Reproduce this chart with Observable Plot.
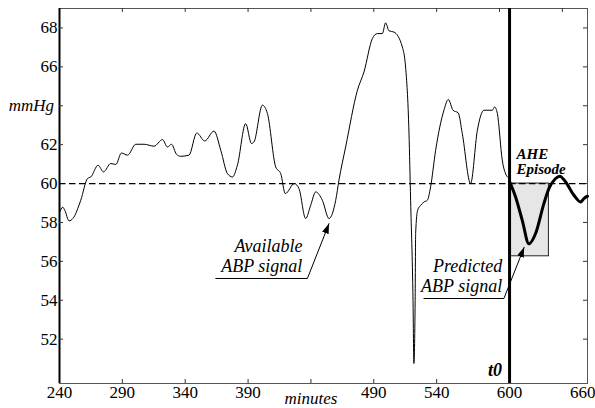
<!DOCTYPE html>
<html>
<head>
<meta charset="utf-8">
<script src="https://cdn.jsdelivr.net/npm/d3@7"></script>
<script src="https://cdn.jsdelivr.net/npm/@observablehq/plot@0.6"></script>
<style>
html,body{margin:0;padding:0;background:#fff;}
#chart svg{display:block;}
</style>
</head>
<body>
<div id="chart"></div>
<script>
// ---- Available ABP signal (minutes, mmHg) ----
const minutes = [240, 242.6, 244.2, 247.6, 250.6, 256.9, 262.3, 264.9, 270.7, 275.0, 280.8, 284.8, 289.3, 294.1, 300.7, 307.3, 315.2, 321.9, 325.9, 329.1, 333.0, 336.4, 343.0, 349.2, 355.5, 362.9, 368.3, 373.6, 377.6, 381.5, 388.1, 392.7, 394.7, 401.4, 405.4, 412.0, 416.0, 419.6, 426.8, 430.5, 435.8, 439.8, 443.8, 449.1, 454.4, 459.7, 462.3, 467.6, 477.0, 482.2, 488.9, 492.8, 496.8, 499.4, 502.1, 506.0, 512.7, 515.3, 518.0, 519.3, 521.2, 521.9, 522.9, 523.3, 524.9, 527.3, 529.9, 532.6, 535.2, 539.2, 545.8, 549.3, 553.0, 557.2, 560.4, 567.0, 572.4, 577.6, 584.3, 586.1, 588.3, 592.2, 595.4, 598];
const abp = [58.5, 58.78, 58.63, 58.08, 58.2, 59.14, 60.26, 60.34, 60.94, 60.60, 61.03, 60.98, 61.57, 61.46, 62.02, 62.02, 61.92, 62.26, 61.88, 62.02, 61.51, 61.40, 61.46, 62.60, 62.19, 62.70, 61.71, 60.51, 60.34, 60.94, 63.08, 62.06, 62.14, 64.03, 63.60, 60.85, 60.51, 59.48, 60.0, 59.74, 58.20, 58.88, 59.57, 59.14, 58.20, 59.14, 60.17, 61.88, 64.80, 65.74, 67.46, 67.71, 67.71, 68.26, 67.85, 67.79, 67.02, 65.99, 62.59, 59.14, 54.0, 50.75, 54.0, 57.44, 58.63, 58.88, 59.05, 59.14, 59.83, 61.71, 63.77, 64.32, 63.77, 63.63, 62.57, 60.0, 62.74, 63.77, 63.77, 63.94, 63.60, 61.20, 60.43, 60.26];

// ---- Predicted ABP signal ----
const predMinutes = [598, 602.8, 608.1, 613.4, 618.7, 625.3, 629.3, 634.6, 638.0, 642.6, 649.2, 654.5, 657.1, 660];
const predAbp = [60.1, 59.31, 58.11, 56.9, 57.43, 58.97, 59.74, 60.26, 60.38, 60.08, 59.40, 59.05, 59.23, 59.35];

// ---- reference values ----
const t0 = 598;
const threshold = 60;
const aheStart = [598];
const aheEnd = [629.3];
const aheLow = [56.26];
const aheHigh = [60];

// ---- ticks ----
const xLabelTicks = [240, 290, 340, 390, 490, 540];
const xLabels = ["240", "290", "340", "390", "490", "540"];
const xBottomTicks = [290, 340, 390, 440, 490, 540];
const xTopTicks = [290, 340, 390, 440, 490, 540, 590, 640];
const yTicks = [52, 54, 56, 58, 60, 62, 64, 66, 68];
const yLabels = ["52", "54", "56", "58", "60", "62", "", "66", "68"];

// ---- annotations (data coordinates) ----
const annoText = ["Available\nABP signal", "Predicted\nABP signal"];
const annoX = [433.2, 592.2];
const annoY = [55.45, 54.43];
const availLeaderX = [364.3, 437.2, 454.4];
const availLeaderY = [55.12, 55.12, 57.94];
const predLeaderX = [529.9, 593.5, 609.6];
const predLeaderY = [54.09, 54.09, 56.72];

const W = 595, H = 408;
const mL = 59, mR = 8, mT = 8, mB = 25;
const pw = W - mL - mR, ph = H - mT - mB;
const serif = "Liberation Serif, Tinos, DejaVu Serif, Noto Serif, serif";

const series = minutes.map((m, i) => ({m, v: abp[i]}));
const pred = predMinutes.map((m, i) => ({m, v: predAbp[i]}));
const box = aheStart.map((s, i) => ({x1: s, x2: aheEnd[i], y1: aheLow[i], y2: aheHigh[i]}));
const xl = xLabelTicks.map((v, i) => ({v, t: xLabels[i]}));
const yl = yTicks.map((v, i) => ({v, t: yLabels[i]}));
const annos = annoText.map((t, i) => ({t, x: annoX[i], y: annoY[i]}));
const availLeader = availLeaderX.map((x, i) => ({x, y: availLeaderY[i]}));
const predLeader = predLeaderX.map((x, i) => ({x, y: predLeaderY[i]}));

const arrowHead = (color, context) => {
  const m = d3.create("svg:marker")
    .attr("viewBox", "-10 -4 10 8")
    .attr("markerWidth", 10)
    .attr("markerHeight", 8)
    .attr("markerUnits", "userSpaceOnUse")
    .attr("orient", "auto")
    .attr("fill", "#000")
    .attr("stroke", "none");
  m.append("path").attr("d", "M-10,-3.5L0,0L-10,3.5Z");
  return m.node();
};

const T = {fontFamily: serif};

const chart = Plot.plot({
  width: W, height: H,
  marginLeft: mL, marginRight: mR, marginTop: mT, marginBottom: mB,
  style: {fontFamily: serif, fontSize: "17px", background: "#fff", color: "#000", overflow: "visible"},
  x: {domain: [240, 660], axis: null},
  y: {domain: [49.72, 69.0], axis: null},
  marks: [
    Plot.rect(box, {x1: "x1", x2: "x2", y1: "y1", y2: "y2", fill: "#e6e6e6", stroke: "#222", strokeWidth: 1}),
    Plot.frame({stroke: "#555", strokeWidth: 1}),
    Plot.ruleX([240], {stroke: "#000", strokeWidth: 2}),
    // ticks (inward)
    Plot.tickX(xBottomTicks, {x: d => d, insetTop: ph - 4, stroke: "#333"}),
    Plot.tickX(xTopTicks, {x: d => d, insetBottom: ph - 4, stroke: "#333"}),
    Plot.tickY(yTicks, {y: d => d, insetRight: pw - 4, stroke: "#333"}),
    Plot.tickY(yTicks, {y: d => d, insetLeft: pw - 4, stroke: "#333"}),
    // threshold
    Plot.ruleY([threshold], {stroke: "#000", strokeWidth: 1.3, strokeDasharray: "6.5,3.5"}),
    // signals
    Plot.line(series, {x: "m", y: "v", stroke: "#000", strokeWidth: 1, curve: "monotone-x"}),
    Plot.ruleX([t0], {stroke: "#000", strokeWidth: 3}),
    Plot.line(pred, {x: "m", y: "v", stroke: "#000", strokeWidth: 3, curve: "monotone-x"}),
    // tick labels
    Plot.text(xl, {...T, x: "v", text: "t", frameAnchor: "bottom", lineAnchor: "top", dy: 2, fontSize: 17}),
    Plot.text([t0], {...T, x: d => d, text: () => "600", frameAnchor: "bottom", lineAnchor: "top", dy: 2, fontSize: 17}),
    Plot.text([660], {...T, x: d => d, text: () => "660", frameAnchor: "bottom", lineAnchor: "top", dy: 2, dx: 8, textAnchor: "end", fontSize: 17}),
    Plot.text([440], {...T, x: d => d, text: () => "minutes", frameAnchor: "bottom", lineAnchor: "top", dy: 8, fontSize: 17, fontStyle: "italic"}),
    Plot.text(yl, {...T, y: "v", text: "t", frameAnchor: "left", textAnchor: "end", lineAnchor: "middle", dx: -2, fontSize: 17}),
    Plot.text([64], {...T, y: d => d, text: () => "mmHg", frameAnchor: "left", textAnchor: "end", lineAnchor: "middle", dx: -5.5, fontSize: 17, fontStyle: "italic"}),
    // annotations
    Plot.text(annos, {...T, x: "x", y: "y", text: "t", textAnchor: "end", lineAnchor: "bottom", lineHeight: 1.11, fontSize: 18, fontStyle: "italic"}),
    Plot.line(availLeader, {x: "x", y: "y", stroke: "#000", strokeWidth: 1, markerEnd: arrowHead}),
    Plot.line(predLeader, {x: "x", y: "y", stroke: "#000", strokeWidth: 1, markerEnd: arrowHead}),
    Plot.text([t0], {...T, x: d => d, text: () => "AHE\nEpisode", y: () => 60.51, dx: 7, textAnchor: "start", lineAnchor: "bottom", lineHeight: 1.0, fontSize: 15, fontWeight: "bold", fontStyle: "italic"}),
    Plot.text([t0], {...T, x: d => d, text: () => "t0", frameAnchor: "bottom", textAnchor: "end", lineAnchor: "bottom", dx: -7.5, dy: -8, fontSize: 18, fontWeight: "bold", fontStyle: "italic"})
  ]
});
document.getElementById("chart").append(chart);
</script>
</body>
</html>
